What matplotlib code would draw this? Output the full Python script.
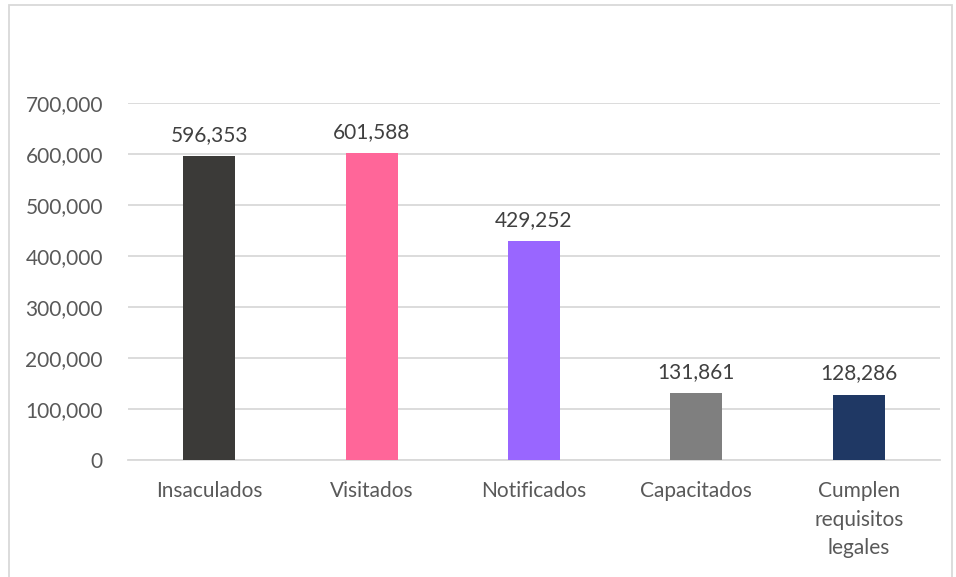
import numpy as np
import matplotlib.pyplot as plt
from matplotlib.patches import Rectangle
from matplotlib.ticker import FuncFormatter

# DATA
categories = ["Insaculados", "Visitados", "Notificados", "Capacitados",
              "Cumplen\nrequisitos\nlegales"]
values = [596353, 601588, 429252, 131861, 128286]
bar_colors = ["#3b3a38", "#ff6699", "#9966ff", "#7f7f7f", "#1f3864"]
y_ticks = [0, 100000, 200000, 300000, 400000, 500000, 600000, 700000]

TEXT_COLOR = "#595959"
GRID_COLOR = "#d9d9d9"

plt.rcParams['font.family'] = ['Lato', 'DejaVu Sans']

W, H = 956, 577
fig = plt.figure(figsize=(W / 100, H / 100), dpi=100)

# plot area in pixel coords: x 128..940, y 103 (700k) .. 460 (0)
ax = fig.add_axes([128 / W, 1 - 460 / H, (940 - 128) / W, (460 - 103) / H])

x = np.arange(len(categories))
ax.bar(x, values, width=0.32, color=bar_colors, zorder=3)

for xi, v in zip(x, values):
    ax.annotate(f"{v:,}", (xi, v), xytext=(0, 8), textcoords="offset points",
                ha="center", va="bottom", fontsize=15, color="#404040")

ax.set_xlim(-0.5, len(categories) - 0.5)
ax.set_ylim(0, 700000)
ax.set_yticks(y_ticks)
ax.yaxis.set_major_formatter(FuncFormatter(lambda v, p: f"{int(v):,}"))
ax.set_xticks(x)
ax.set_xticklabels(categories, linespacing=1.55)

ax.grid(axis="y", color=GRID_COLOR, linewidth=1.3, zorder=0)
for side in ["top", "right", "left"]:
    ax.spines[side].set_visible(False)
ax.spines["bottom"].set_color(GRID_COLOR)
ax.spines["bottom"].set_linewidth(1.3)
ax.tick_params(axis="both", length=0, labelsize=15, labelcolor=TEXT_COLOR)
ax.tick_params(axis="y", pad=18)
ax.tick_params(axis="x", pad=15)

# chart border
fig.patches.append(Rectangle((9 / W, -0.05), (952 - 9) / W, 1.05 - 5 / H,
                             transform=fig.transFigure, fill=False,
                             edgecolor=GRID_COLOR, linewidth=1.3))

fig.savefig("out.png", dpi=100)
